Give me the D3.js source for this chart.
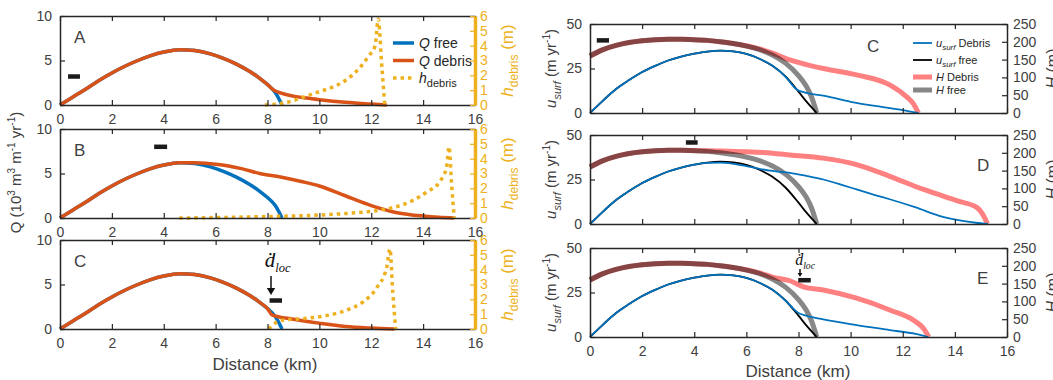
<!DOCTYPE html>
<html>
<head>
<meta charset="utf-8">
<script src="https://cdn.jsdelivr.net/npm/d3@7"></script>
<style>
  body { margin: 0; background: #fff; }
  svg { display: block; font-family: "Liberation Sans", Arial, sans-serif; }
</style>
</head>
<body>
<div id="chart"></div>
<script>
// ---- tick labels ----
const distanceTicks = [0, 2, 4, 6, 8, 10, 12, 14, 16];
const fluxTicks = [0, 5, 10];
const debrisTicks = [0, 1, 2, 3, 4, 5, 6];
const velocityTicks = [0, 25, 50];
const thicknessTicks = [0, 50, 100, 150, 200, 250];

// ---- left column: ice flux Q (10^3 m3 m-1 yr-1) and debris thickness (m), [km, value] ----
const qFree = [[0, 0], [0.5, 0.9], [1, 1.8], [1.5, 2.75], [2, 3.6], [2.5, 4.35], [3, 5.0], [3.5, 5.55],
  [4, 5.95], [4.6, 6.22], [5.2, 6.12], [5.8, 5.75], [6.3, 5.25], [6.8, 4.6], [7.3, 3.8], [7.7, 3.0],
  [8.0, 2.3], [8.3, 1.4], [8.56, 0]];
const qDebrisA = [[0, 0], [0.5, 0.9], [1, 1.8], [1.5, 2.75], [2, 3.6], [2.5, 4.35], [3, 5.0], [3.5, 5.55],
  [4, 5.95], [4.6, 6.22], [5.2, 6.12], [5.8, 5.75], [6.3, 5.25], [6.8, 4.6], [7.3, 3.8], [7.7, 3.0],
  [8.0, 2.3], [8.2, 1.75], [8.5, 1.35], [9, 1.0], [9.5, 0.78], [10, 0.6], [11, 0.3], [12, 0.1], [12.6, 0]];
const qDebrisB = [[0, 0], [0.5, 0.9], [1, 1.8], [1.5, 2.75], [2, 3.6], [2.5, 4.35], [3, 5.0], [3.5, 5.55],
  [4, 5.95], [4.6, 6.22], [5.2, 6.2], [6, 6.05], [6.5, 5.85], [7, 5.55], [7.7, 5.0], [8.5, 4.6],
  [9.3, 4.1], [10, 3.6], [11, 2.5], [12, 1.4], [13, 0.6], [14, 0.22], [14.6, 0.08], [15.2, 0]];
const qDebrisC = [[0, 0], [0.5, 0.9], [1, 1.8], [1.5, 2.75], [2, 3.6], [2.5, 4.35], [3, 5.0], [3.5, 5.55],
  [4, 5.95], [4.6, 6.22], [5.2, 6.12], [5.8, 5.75], [6.3, 5.25], [6.8, 4.6], [7.3, 3.8], [7.7, 3.0],
  [8.0, 2.3], [8.17, 1.6], [9, 1.1], [10, 0.65], [11, 0.28], [12, 0.1], [12.9, 0]];
const hDebrisA = [[7.9, 0], [8.5, 0.1], [9, 0.3], [9.5, 0.6], [10, 0.9], [10.5, 1.2], [11, 1.65],
  [11.5, 2.4], [11.9, 3.3], [12.15, 4.0], [12.27, 5.8], [12.4, 2.8], [12.52, 0]];
const hDebrisB = [[4.6, 0], [6, 0.03], [8, 0.1], [10, 0.2], [11, 0.3], [12, 0.45], [12.7, 0.65],
  [13.3, 0.95], [14.1, 1.7], [14.7, 2.6], [14.9, 3.4], [15.0, 4.8], [15.1, 2.2], [15.2, 0]];
const hDebrisC = [[8.04, 0], [8.3, 0.4], [8.62, 0.6], [9.5, 0.72], [10.4, 0.95], [11.1, 1.3],
  [11.7, 1.85], [12.2, 2.75], [12.6, 4.2], [12.72, 5.4], [12.83, 2.5], [12.94, 0]];

// ---- right column: surface velocity (m/yr) and ice thickness H (m), [km, value] ----
const uFree = [[0, 0], [0.5, 7], [1, 13.5], [1.5, 18.5], [2, 23], [2.5, 26.5], [3, 29.5], [3.5, 31.7],
  [4, 33.3], [4.5, 34.5], [5, 35], [5.5, 34.6], [6, 33.2], [6.5, 30.5], [7, 26.5], [7.5, 20.5],
  [8, 12], [8.3, 6.5], [8.7, 0]];
const uDebrisC = [[0, 0], [0.5, 7], [1, 13.5], [1.5, 18.5], [2, 23], [2.5, 26.5], [3, 29.5], [3.5, 31.7],
  [4, 33.3], [4.5, 34.5], [5, 35], [5.5, 34.6], [6, 33.2], [6.5, 30.5], [7, 26.5], [7.5, 20.5],
  [7.9, 13.5], [8.3, 11.3], [9, 9.6], [10, 6.3], [11, 3.8], [12, 1.6], [12.6, 0]];
const uDebrisD = [[0, 0], [0.5, 7], [1, 13.5], [1.5, 18.5], [2, 23], [2.5, 26.5], [3, 29.5], [3.5, 31.7],
  [4, 33.3], [4.5, 34.3], [5, 34.5], [5.5, 33.8], [6, 32.5], [6.5, 31], [7, 29.8], [7.67, 28.7],
  [8.3, 27], [8.95, 25], [9.6, 22.3], [10.23, 19.4], [11, 16], [11.5, 13.9], [12.5, 9.3],
  [13.4, 4.6], [14.3, 1.8], [14.8, 0.7], [15.27, 0]];
const uDebrisE = [[0, 0], [0.5, 7], [1, 13.5], [1.5, 18.5], [2, 23], [2.5, 26.5], [3, 29.5], [3.5, 31.7],
  [4, 33.3], [4.5, 34.5], [5, 35], [5.5, 34.6], [6, 33.2], [6.5, 30.5], [7, 26.5], [7.5, 20.5],
  [8.0, 13.5], [8.19, 12.4], [8.95, 9.9], [10.23, 6.7], [11.5, 3.9], [12.5, 1.7], [12.97, 0]];
const hFree = [[0, 160], [0.5, 178], [1, 190], [1.5, 198], [2, 203], [2.5, 206], [3, 207], [3.5, 207],
  [4, 206], [4.5, 204], [5, 200], [5.5, 195], [6, 188], [6.5, 178], [7, 163], [7.5, 140],
  [8, 105], [8.3, 75], [8.5, 45], [8.7, 0]];
const hDebrisThickC = [[0, 160], [0.5, 178], [1, 190], [1.5, 198], [2, 203], [2.5, 206], [3, 207],
  [3.5, 207], [4, 206], [4.5, 204], [5, 200], [5.5, 195], [6, 189], [6.5, 180], [7, 168],
  [7.67, 149], [8.3, 136], [8.95, 125], [10.23, 107], [11.5, 79], [12.14, 46], [12.4, 27], [12.6, 0]];
const hDebrisThickD = [[0, 160], [0.5, 178], [1, 190], [1.5, 198], [2, 203], [2.5, 206], [3, 207],
  [3.5, 207], [4, 206.5], [4.5, 206], [5, 205], [6, 203], [7, 199], [7.67, 194], [8.95, 185],
  [10.23, 167], [11.5, 134], [12.8, 97], [14.1, 65], [14.85, 46], [15.1, 23], [15.25, 0]];
const hDebrisThickE = [[0, 160], [0.5, 178], [1, 190], [1.5, 198], [2, 203], [2.5, 206], [3, 207],
  [3.5, 207], [4, 206], [4.5, 204], [5, 200], [5.5, 195], [6, 189], [6.5, 180], [7, 168],
  [7.67, 158], [8.19, 141], [8.95, 132], [10.23, 109], [11.5, 76], [12.5, 43], [12.8, 24], [13.0, 0]];

// debris source markers: [start km, end km, value on the left axis]
const sourceA = [0.31, 0.77, 3.2];
const sourceB = [3.63, 4.13, 8.0];
const sourceC = [8.08, 8.56, 3.2];
const sourceRightC = [0.26, 0.73, 40.8];
const sourceRightD = [3.68, 4.13, 45.8];
const sourceRightE = [7.99, 8.47, 31.9];

const COLOR = {
  blue: '#0072BD',
  orange: '#D95319',
  yellow: '#EDB120',
  pink: '#FF8080',
  grey: 'rgba(0,0,0,0.47)',
  axis: '#262626',
  text: '#404040'
};

const width = 1053;
const height = 380;
const panelHeight = 89;

const svg = d3.select('#chart')
  .append('svg')
  .attr('width', width)
  .attr('height', height);

/**
 * Draws a line from [km, value] pairs.
 */
function drawSeries(g, data, x, y, stroke, strokeWidth, dash) {
  const line = d3.line()
    .x(d => x(d[0]))
    .y(d => y(d[1]))
    .curve(d3.curveMonotoneX);
  const path = g.append('path')
    .datum(data)
    .attr('d', line)
    .attr('fill', 'none')
    .attr('stroke', stroke)
    .attr('stroke-width', strokeWidth)
    .attr('stroke-linejoin', 'round');
  if (dash) path.attr('stroke-dasharray', dash);
  return path;
}

function styleAxis(g, color, fontSize) {
  g.selectAll('path.domain').attr('stroke', color).attr('stroke-width', 1.5);
  g.selectAll('.tick line').attr('stroke', color).attr('stroke-width', 1.2);
  g.selectAll('.tick text')
    .attr('fill', color === COLOR.axis ? COLOR.text : color)
    .style('font-size', fontSize + 'px')
    .style('font-family', '"Liberation Sans", Arial, sans-serif');
}

function drawSourceBar(g, source, x, y) {
  g.append('line')
    .attr('x1', x(source[0])).attr('x2', x(source[1]))
    .attr('y1', y(source[2])).attr('y2', y(source[2]))
    .attr('stroke', '#1a1a1a')
    .attr('stroke-width', 4.5);
}

/**
 * Writes d-dot_loc with a small arrow pointing down at the source marker.
 */
function drawSourceLabel(g, px, py, size, top, bottom) {
  const t = g.append('text')
    .attr('x', px - size * 0.3)
    .attr('y', py)
    .attr('fill', '#111')
    .style('font-family', '"Liberation Serif", "DejaVu Serif", serif')
    .style('font-style', 'italic')
    .style('font-size', size + 'px');
  t.append('tspan').text('\u1E0B');
  t.append('tspan').attr('dy', size * 0.25).style('font-size', (size * 0.6) + 'px').text('loc');

  const head = Math.min(7, (bottom - top) * 0.5);
  g.append('line')
    .attr('x1', px).attr('x2', px)
    .attr('y1', top).attr('y2', bottom - head + 1)
    .attr('stroke', '#111').attr('stroke-width', 1.5);
  g.append('path')
    .attr('d', `M${px - head * 0.6},${bottom - head} L${px + head * 0.6},${bottom - head} L${px},${bottom} Z`)
    .attr('fill', '#111');
}

// ================= left column =================
const fluxPanels = [
  {label: 'A', top: 16, qDebris: qDebrisA, hDebris: hDebrisA, source: sourceA, legend: true},
  {label: 'B', top: 129, qDebris: qDebrisB, hDebris: hDebrisB, source: sourceB},
  {label: 'C', top: 240, qDebris: qDebrisC, hDebris: hDebrisC, source: sourceC, arrow: true}
];

const xFlux = d3.scaleLinear().domain([0, 16]).range([60, 475]);

fluxPanels.forEach(p => {
  const bottom = p.top + panelHeight;
  const y = d3.scaleLinear().domain([0, 10]).range([bottom, p.top]);
  const yH = d3.scaleLinear().domain([0, 6]).range([bottom, p.top]);
  const g = svg.append('g');

  // data
  drawSeries(g, qFree, xFlux, y, COLOR.blue, 3.5);
  drawSeries(g, p.qDebris, xFlux, y, COLOR.orange, 3.5);
  drawSeries(g, p.hDebris, xFlux, yH, COLOR.yellow, 3.5, '3.5,4');
  drawSourceBar(g, p.source, xFlux, y);

  // axes
  styleAxis(g.append('g')
    .attr('transform', `translate(0,${bottom})`)
    .call(d3.axisBottom(xFlux).tickValues(distanceTicks).tickSizeInner(-5).tickSizeOuter(0).tickPadding(9)),
    COLOR.axis, 14);
  styleAxis(g.append('g')
    .attr('transform', `translate(0,${p.top})`)
    .call(d3.axisTop(xFlux).tickValues(distanceTicks).tickSizeInner(-5).tickSizeOuter(0).tickFormat('')),
    COLOR.axis, 14);
  styleAxis(g.append('g')
    .attr('transform', `translate(${xFlux.range()[0]},0)`)
    .call(d3.axisLeft(y).tickValues(fluxTicks).tickSizeInner(-5).tickSizeOuter(0).tickPadding(8)),
    COLOR.axis, 14);
  const right = g.append('g')
    .attr('transform', `translate(${xFlux.range()[1]},0)`)
    .call(d3.axisRight(yH).tickValues(debrisTicks).tickFormat(d3.format('d'))
      .tickSizeInner(-5).tickSizeOuter(0).tickPadding(5));
  styleAxis(right, COLOR.yellow, 14);
  right.select('path.domain').attr('stroke-width', 3.5);

  // right axis title
  const ht = g.append('text')
    .attr('transform', `translate(513,${p.top + panelHeight / 2}) rotate(-90)`)
    .attr('text-anchor', 'middle')
    .attr('fill', COLOR.yellow)
    .style('font-size', '17px');
  ht.append('tspan').style('font-style', 'italic').text('h');
  ht.append('tspan').attr('dy', 5).style('font-size', '12px').text('debris');
  ht.append('tspan').attr('dy', -5).text(' (m)');

  // panel letter
  g.append('text')
    .attr('x', 74).attr('y', p.top + 27)
    .attr('fill', COLOR.text)
    .style('font-size', '17px')
    .text(p.label);

  if (p.arrow) drawSourceLabel(g, 271, 267, 21, 276, 295);

  if (p.legend) {
    const entries = [
      {color: COLOR.blue, dash: null, name: 'free'},
      {color: COLOR.orange, dash: null, name: 'debris'},
      {color: COLOR.yellow, dash: '3.5,4', name: null}
    ];
    entries.forEach((e, i) => {
      const ly = 43 + i * 17.5;
      const line = g.append('line')
        .attr('x1', 393).attr('x2', 414)
        .attr('y1', ly).attr('y2', ly)
        .attr('stroke', e.color).attr('stroke-width', 3.5);
      if (e.dash) line.attr('stroke-dasharray', e.dash);
      const t = g.append('text')
        .attr('x', 419).attr('y', ly + 5)
        .attr('fill', '#262626')
        .style('font-size', '14px');
      if (e.name) {
        t.append('tspan').style('font-style', 'italic').text('Q');
        t.append('tspan').text(' ' + e.name);
      } else {
        t.append('tspan').style('font-style', 'italic').text('h');
        t.append('tspan').attr('dy', 4).style('font-size', '11px').text('debris');
      }
    });
  }
});

// left axis title
const qTitle = svg.append('text')
  .attr('transform', `translate(21,${(fluxPanels[0].top + fluxPanels[2].top + panelHeight) / 2}) rotate(-90)`)
  .attr('text-anchor', 'middle')
  .attr('fill', COLOR.text)
  .style('font-size', '15px');
qTitle.append('tspan').text('Q  (10');
qTitle.append('tspan').attr('dy', -6).style('font-size', '10px').text('3');
qTitle.append('tspan').attr('dy', 6).text(' m');
qTitle.append('tspan').attr('dy', -6).style('font-size', '10px').text('3');
qTitle.append('tspan').attr('dy', 6).text(' m');
qTitle.append('tspan').attr('dy', -6).style('font-size', '10px').text('-1');
qTitle.append('tspan').attr('dy', 6).text(' yr');
qTitle.append('tspan').attr('dy', -6).style('font-size', '10px').text('-1');
qTitle.append('tspan').attr('dy', 6).text(')');

svg.append('text')
  .attr('x', 265).attr('y', 370)
  .attr('text-anchor', 'middle')
  .attr('fill', COLOR.text)
  .style('font-size', '17px')
  .text('Distance (km)');

// ================= right column =================
const velocityPanels = [
  {label: 'C', top: 24, labelX: 867, uDebris: uDebrisC, hDebris: hDebrisThickC, source: sourceRightC, legend: true},
  {label: 'D', top: 135, labelX: 977, uDebris: uDebrisD, hDebris: hDebrisThickD, source: sourceRightD},
  {label: 'E', top: 248, labelX: 977, uDebris: uDebrisE, hDebris: hDebrisThickE, source: sourceRightE, arrow: true, xLabels: true}
];

const xVel = d3.scaleLinear().domain([0, 16]).range([590, 1007]);

velocityPanels.forEach(p => {
  const bottom = p.top + panelHeight;
  const y = d3.scaleLinear().domain([0, 50]).range([bottom, p.top]);
  const yH = d3.scaleLinear().domain([0, 250]).range([bottom, p.top]);
  const g = svg.append('g');

  drawSeries(g, p.hDebris, xVel, yH, COLOR.pink, 5);
  drawSeries(g, hFree, xVel, yH, COLOR.grey, 5);
  drawSeries(g, uFree, xVel, y, '#000', 1.8);
  drawSeries(g, p.uDebris, xVel, y, COLOR.blue, 1.8);
  drawSourceBar(g, p.source, xVel, y);

  const bottomAxis = d3.axisBottom(xVel).tickValues(distanceTicks).tickSizeInner(-5).tickSizeOuter(0).tickPadding(9);
  if (!p.xLabels) bottomAxis.tickFormat('');
  styleAxis(g.append('g').attr('transform', `translate(0,${bottom})`).call(bottomAxis), COLOR.axis, 14);
  styleAxis(g.append('g')
    .attr('transform', `translate(0,${p.top})`)
    .call(d3.axisTop(xVel).tickValues(distanceTicks).tickSizeInner(-5).tickSizeOuter(0).tickFormat('')),
    COLOR.axis, 14);
  styleAxis(g.append('g')
    .attr('transform', `translate(${xVel.range()[0]},0)`)
    .call(d3.axisLeft(y).tickValues(velocityTicks).tickSizeInner(-5).tickSizeOuter(0).tickPadding(8)),
    COLOR.axis, 14);
  styleAxis(g.append('g')
    .attr('transform', `translate(${xVel.range()[1]},0)`)
    .call(d3.axisRight(yH).tickValues(thicknessTicks).tickSizeInner(-5).tickSizeOuter(0).tickPadding(6)),
    COLOR.axis, 14);

  // left title
  const ut = g.append('text')
    .attr('transform', `translate(556,${p.top + panelHeight / 2}) rotate(-90)`)
    .attr('text-anchor', 'middle')
    .attr('fill', COLOR.text)
    .style('font-size', '15px');
  ut.append('tspan').style('font-style', 'italic').text('u');
  ut.append('tspan').attr('dy', 5).style('font-size', '11px').style('font-style', 'italic').text('surf');
  ut.append('tspan').attr('dy', -5).text(' (m yr');
  ut.append('tspan').attr('dy', -6).style('font-size', '10px').text('-1');
  ut.append('tspan').attr('dy', 6).text(')');

  // right title, clipped by the page edge as in the source figure
  const hTitle = g.append('text')
    .attr('transform', `translate(1058,${p.top + panelHeight / 2}) rotate(-90)`)
    .attr('text-anchor', 'middle')
    .attr('fill', COLOR.text)
    .style('font-size', '16px');
  hTitle.append('tspan').style('font-style', 'italic').text('H');
  hTitle.append('tspan').text(' (m)');

  g.append('text')
    .attr('x', p.labelX).attr('y', p.top + 28 + (p.label === 'C' ? 0 : 8))
    .attr('fill', COLOR.text)
    .style('font-size', '17px')
    .text(p.label);

  if (p.arrow) drawSourceLabel(g, 800, 265, 16, 269, 277);

  if (p.legend) {
    const entries = [
      {color: COLOR.blue, w: 1.8, sym: 'u', sub: 'surf', name: ' Debris'},
      {color: '#000', w: 1.8, sym: 'u', sub: 'surf', name: ' free'},
      {color: COLOR.pink, w: 5, sym: 'H', sub: null, name: ' Debris'},
      {color: COLOR.grey, w: 5, sym: 'H', sub: null, name: ' free'}
    ];
    const rows = [43, 60, 77, 90];
    entries.forEach((e, i) => {
      g.append('line')
        .attr('x1', 913).attr('x2', 932)
        .attr('y1', rows[i]).attr('y2', rows[i])
        .attr('stroke', e.color).attr('stroke-width', e.w);
      const t = g.append('text')
        .attr('x', 936).attr('y', rows[i] + 4)
        .attr('fill', '#262626')
        .style('font-size', '11px');
      t.append('tspan').style('font-style', 'italic').text(e.sym);
      if (e.sub) {
        t.append('tspan').attr('dy', 3).style('font-size', '8px').style('font-style', 'italic').text(e.sub);
        t.append('tspan').attr('dy', -3).text(e.name);
      } else {
        t.append('tspan').text(e.name);
      }
    });
  }
});

svg.append('text')
  .attr('x', 798).attr('y', 377)
  .attr('text-anchor', 'middle')
  .attr('fill', COLOR.text)
  .style('font-size', '17px')
  .text('Distance (km)');
</script>
</body>
</html>
